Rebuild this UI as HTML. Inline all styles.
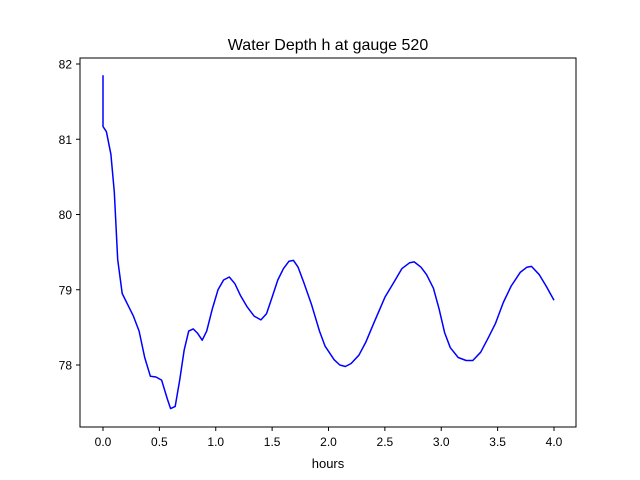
<!DOCTYPE html>
<html><head><meta charset="utf-8">
<style>
html,body{margin:0;padding:0;background:#fff;}
svg{display:block;font-family:"Liberation Sans","DejaVu Sans",sans-serif;}
</style></head>
<body>
<svg id="chart" width="640" height="480" viewBox="0 0 640 480" xmlns="http://www.w3.org/2000/svg">
<rect x="0" y="0" width="640" height="480" fill="#fff"/>
<text x="328" y="50" text-anchor="middle" font-size="16">Water Depth h at gauge 520</text>
<g id="xticks"></g>
<g id="yticks"></g>
<polyline id="series" fill="none" stroke="#0000ff" stroke-width="1.5" stroke-linejoin="round"/>
<rect x="80" y="58" width="496" height="369" fill="none" stroke="#000" stroke-width="1"/>
<text x="328" y="468" text-anchor="middle" font-size="13">hours</text>
</svg>
<script>
const hours = [0,0,0.03,0.07,0.1,0.13,0.17,0.22,0.27,0.32,0.37,0.42,0.47,0.52,0.57,0.6,0.64,0.68,0.72,0.76,0.8,0.84,0.88,0.92,0.97,1.02,1.07,1.12,1.17,1.22,1.28,1.34,1.4,1.45,1.5,1.55,1.6,1.65,1.69,1.73,1.78,1.85,1.92,1.97,2.05,2.1,2.15,2.2,2.27,2.33,2.4,2.5,2.58,2.65,2.72,2.76,2.82,2.87,2.93,2.98,3.03,3.08,3.15,3.22,3.28,3.35,3.42,3.48,3.55,3.62,3.7,3.76,3.8,3.87,3.93,4.0];
const depth = [81.85,81.17,81.1,80.8,80.3,79.4,78.95,78.8,78.65,78.45,78.1,77.85,77.84,77.8,77.55,77.42,77.45,77.8,78.2,78.45,78.48,78.42,78.33,78.45,78.75,79.0,79.13,79.17,79.08,78.92,78.77,78.65,78.6,78.68,78.9,79.13,79.28,79.38,79.39,79.3,79.1,78.8,78.45,78.25,78.07,78.0,77.98,78.02,78.13,78.3,78.55,78.9,79.1,79.28,79.36,79.37,79.3,79.2,79.02,78.75,78.43,78.23,78.1,78.06,78.06,78.17,78.37,78.55,78.83,79.05,79.23,79.3,79.31,79.2,79.05,78.86];
const xTickLabels = ["0.0","0.5","1.0","1.5","2.0","2.5","3.0","3.5","4.0"];
const yTickLabels = ["78","79","80","81","82"];

const NS="http://www.w3.org/2000/svg";
const xs = h => 103 + h*112.75;
const ys = v => 365 - (v-78)*75.25;

document.getElementById('series').setAttribute('points', hours.map((h,i)=>xs(h).toFixed(1)+','+ys(depth[i]).toFixed(1)).join(' '));

const xg=document.getElementById('xticks');
xTickLabels.forEach(l=>{
  const x=xs(parseFloat(l));
  const t=document.createElementNS(NS,'line');
  t.setAttribute('x1',x);t.setAttribute('x2',x);t.setAttribute('y1',427);t.setAttribute('y2',431);t.setAttribute('stroke','#000');
  
  
  xg.appendChild(t);
  const tx=document.createElementNS(NS,'text');
  tx.setAttribute('x',x);tx.setAttribute('y',446);tx.setAttribute('text-anchor','middle');tx.setAttribute('font-size','12');
  tx.textContent=l;
  
  
  xg.appendChild(tx);
});
const yg=document.getElementById('yticks');
yTickLabels.forEach(l=>{
  const y=ys(parseFloat(l));
  const t=document.createElementNS(NS,'line');
  t.setAttribute('x1',76);t.setAttribute('x2',80);t.setAttribute('y1',y);t.setAttribute('y2',y);t.setAttribute('stroke','#000');
  
  
  yg.appendChild(t);
  const tx=document.createElementNS(NS,'text');
  tx.setAttribute('x',72);tx.setAttribute('y',y+4.5);tx.setAttribute('text-anchor','end');tx.setAttribute('font-size','12');
  tx.textContent=l;
  
  
  yg.appendChild(tx);
});
</script>
</body></html>
